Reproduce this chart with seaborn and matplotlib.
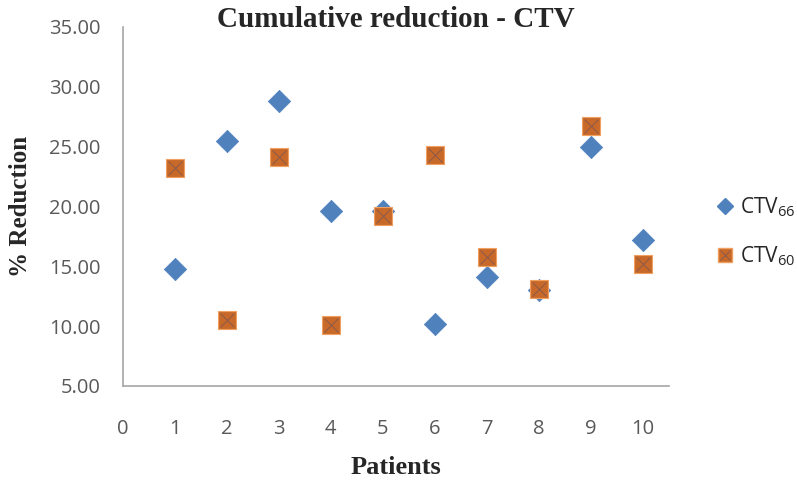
import matplotlib
matplotlib.use("Agg")
import matplotlib.pyplot as plt
import pandas as pd
import seaborn as sns
from matplotlib.lines import Line2D

# Datos
patients = [1, 2, 3, 4, 5, 6, 7, 8, 9, 10]
ctv66 = [14.8, 25.5, 28.8, 19.6, 19.6, 10.2, 14.1, 13.0, 25.0, 17.2]
ctv60 = [23.2, 10.5, 24.1, 10.1, 19.2, 24.3, 15.8, 13.1, 26.7, 15.2]

blue = "#4F81BD"
orange = "#C8692A"
grey = "#595959"

df66 = pd.DataFrame({"Patients": patients, "Reduction": ctv66})
df60 = pd.DataFrame({"Patients": patients, "Reduction": ctv60})

sns.set_style("white")
plt.rcParams["font.family"] = ["Open Sans", "DejaVu Sans"]
plt.rcParams["mathtext.fontset"] = "custom"
plt.rcParams["mathtext.rm"] = "Open Sans"

fig = plt.figure(figsize=(7.97, 4.8), dpi=100)
ax = fig.add_axes([0.154, 0.196, 0.685, 0.748])

sns.scatterplot(data=df66, x="Patients", y="Reduction", marker="D", s=130,
                color=blue, edgecolor=blue, linewidth=0.5, ax=ax, zorder=3)
sns.scatterplot(data=df60, x="Patients", y="Reduction", marker="s", s=160,
                color=orange, edgecolor="#F0A060", linewidth=0.8, ax=ax, zorder=4)
sns.scatterplot(data=df60, x="Patients", y="Reduction", marker="x", s=100,
                color="#8A5A4A", linewidth=0.7, ax=ax, zorder=5)

ax.set_xlim(0, 10.5)
ax.set_ylim(5, 35)
ax.set_xticks(range(0, 11))
ax.set_yticks([5, 10, 15, 20, 25, 30, 35])
ax.set_yticklabels([f"{v:.2f}" for v in [5, 10, 15, 20, 25, 30, 35]])

for s in ["top", "right"]:
    ax.spines[s].set_visible(False)
for s in ["left", "bottom"]:
    ax.spines[s].set_color("#A6A6A6")
    ax.spines[s].set_linewidth(1.2)
ax.tick_params(axis="both", colors="#A6A6A6", length=5, width=1.2,
               labelcolor=grey, labelsize=14.5, direction="out")
ax.tick_params(axis="x", pad=19)
ax.tick_params(axis="y", pad=11)

ax.set_title("Cumulative reduction - CTV", fontfamily="Liberation Serif",
             fontweight="bold", fontsize=21, y=1.0, pad=0)
ax.set_xlabel("Patients", fontfamily="Liberation Serif", fontweight="bold",
              fontsize=19, labelpad=12)
ax.set_ylabel("% Reduction", fontfamily="Liberation Serif", fontweight="bold",
              fontsize=18, labelpad=12)

handles = [
    Line2D([], [], linestyle="none", marker="D", markersize=8,
           markerfacecolor=blue, markeredgecolor=blue),
    (Line2D([], [], linestyle="none", marker="s", markersize=10,
            markerfacecolor=orange, markeredgecolor="#F0A060"),
     Line2D([], [], linestyle="none", marker="x", markersize=7,
            markeredgecolor="#8A5A4A", markeredgewidth=0.7)),
]
ax.legend(handles, ["CTV$_{66}$", "CTV$_{60}$"], loc="center left",
          bbox_to_anchor=(1.045, 0.43), frameon=False, fontsize=15,
          handletextpad=0.15, labelspacing=1.2, handlelength=1.2)

fig.savefig("out.png", dpi=100)
